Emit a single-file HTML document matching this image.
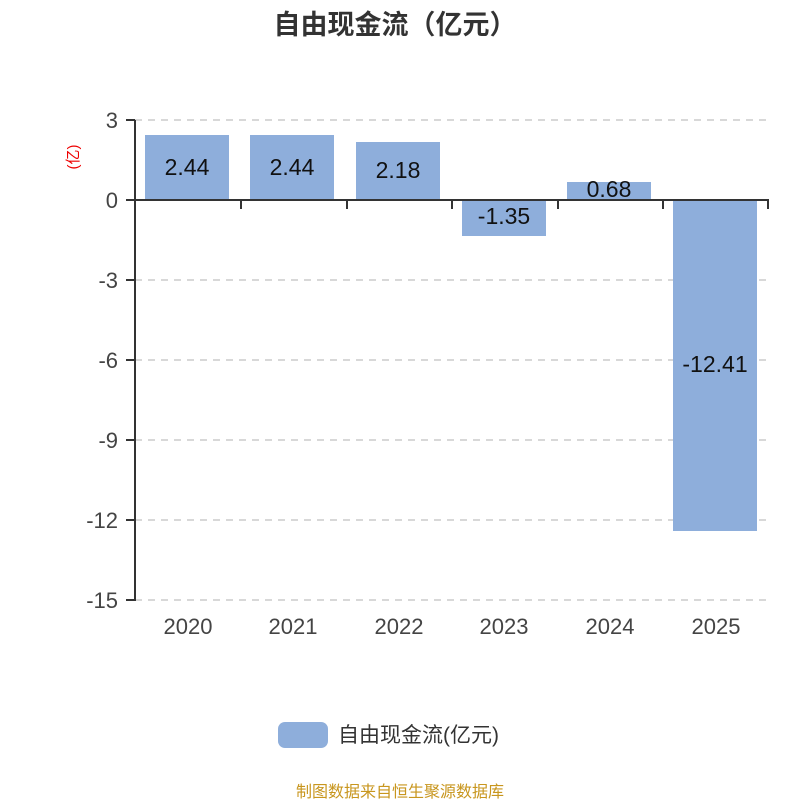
<!DOCTYPE html>
<html><head><meta charset="utf-8"><style>body{margin:0;background:#fff}svg{display:block}</style></head>
<body>
<svg width="800" height="800" xmlns="http://www.w3.org/2000/svg" font-family="Liberation Sans, Noto Sans CJK SC, sans-serif">
<text x="395" y="34" text-anchor="middle" font-size="27" font-weight="bold" fill="#333">自由现金流（亿元）</text>
<g stroke="#ccc" stroke-width="1.5" stroke-dasharray="7,6">
<line x1="135" y1="120" x2="768" y2="120"/>
<line x1="135" y1="280" x2="768" y2="280"/>
<line x1="135" y1="360" x2="768" y2="360"/>
<line x1="135" y1="440" x2="768" y2="440"/>
<line x1="135" y1="520" x2="768" y2="520"/>
<line x1="135" y1="600" x2="768" y2="600"/>
</g>
<g fill="#8eaedb">
<rect x="145" y="135" width="84" height="65"/>
<rect x="250" y="135" width="84" height="65"/>
<rect x="356" y="142" width="84" height="58"/>
<rect x="462" y="200" width="84" height="36"/>
<rect x="567" y="182" width="84" height="18"/>
<rect x="673" y="200" width="84" height="331"/>
</g>
<g stroke="#333" stroke-width="2">
<line x1="135" y1="120" x2="135" y2="601"/>
<line x1="135" y1="200" x2="769" y2="200"/>
<line x1="126" y1="120" x2="135" y2="120"/>
<line x1="126" y1="200" x2="135" y2="200"/>
<line x1="126" y1="280" x2="135" y2="280"/>
<line x1="126" y1="360" x2="135" y2="360"/>
<line x1="126" y1="440" x2="135" y2="440"/>
<line x1="126" y1="520" x2="135" y2="520"/>
<line x1="126" y1="600" x2="135" y2="600"/>
<line x1="241" y1="200" x2="241" y2="209"/>
<line x1="347" y1="200" x2="347" y2="209"/>
<line x1="452" y1="200" x2="452" y2="209"/>
<line x1="558" y1="200" x2="558" y2="209"/>
<line x1="663" y1="200" x2="663" y2="209"/>
<line x1="768" y1="200" x2="768" y2="209"/>
</g>
<g font-size="22" fill="#444" text-anchor="end">
<text x="118" y="128">3</text>
<text x="118" y="208">0</text>
<text x="118" y="288">-3</text>
<text x="118" y="368">-6</text>
<text x="118" y="448">-9</text>
<text x="118" y="528">-12</text>
<text x="118" y="608">-15</text>
</g>
<text transform="translate(78,157) rotate(-90)" text-anchor="middle" font-size="15" fill="#e00">(亿)</text>
<g font-size="22" fill="#444" text-anchor="middle">
<text x="188" y="634">2020</text>
<text x="293" y="634">2021</text>
<text x="399" y="634">2022</text>
<text x="504" y="634">2023</text>
<text x="610" y="634">2024</text>
<text x="716" y="634">2025</text>
</g>
<g font-size="23" fill="#111" text-anchor="middle">
<text x="187" y="175">2.44</text>
<text x="292" y="175">2.44</text>
<text x="398" y="178">2.18</text>
<text x="504" y="224">-1.35</text>
<text x="609" y="197">0.68</text>
<text x="715" y="372">-12.41</text>
</g>
<rect x="278" y="722" width="50" height="26" rx="7" fill="#8eaedb"/>
<text x="338" y="742" font-size="21" fill="#333">自由现金流(亿元)</text>
<text x="400" y="797" text-anchor="middle" font-size="16" fill="#c8961e">制图数据来自恒生聚源数据库</text>
</svg>
</body></html>
